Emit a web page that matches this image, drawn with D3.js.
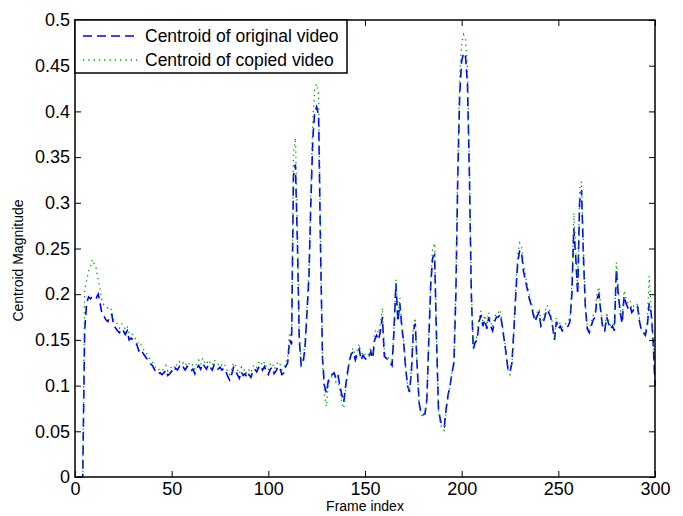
<!DOCTYPE html>
<html>
<head>
<meta charset="utf-8">
<script src="https://cdn.jsdelivr.net/npm/d3@7"></script>
<style>
  body { margin: 0; background: #fff; }
  svg { display: block; font-family: Arial, 'Liberation Sans', sans-serif; }
</style>
</head>
<body>
<div id="chart"></div>
<script>
const seriesNames = ['Centroid of original video', 'Centroid of copied video'];
const xTicks = [0, 50, 100, 150, 200, 250, 300];
const xTickLabels = ['0', '50', '100', '150', '200', '250', '300'];
const yTicks = [0, 0.05, 0.1, 0.15, 0.2, 0.25, 0.3, 0.35, 0.4, 0.45, 0.5];
const yTickLabels = ['0', '0.05', '0.1', '0.15', '0.2', '0.25', '0.3', '0.35', '0.4', '0.45', '0.5'];

// frame index 1..300
const frames = d3.range(1, 301);

const original = [
  0, 0, 0, 0, 0.160, 0.190, 0.197, 0.195, 0.198, 0.197,
  0.196, 0.200, 0.190, 0.178, 0.176, 0.172, 0.170, 0.176, 0.178, 0.166,
  0.163, 0.160, 0.158, 0.162, 0.160, 0.156, 0.160, 0.150, 0.152, 0.150,
  0.147, 0.145, 0.138, 0.140, 0.136, 0.133, 0.130, 0.127, 0.124, 0.122,
  0.118, 0.114, 0.113, 0.114, 0.112, 0.114, 0.117, 0.111, 0.113, 0.116,
  0.114, 0.119, 0.117, 0.121, 0.118, 0.120, 0.117, 0.121, 0.119, 0.116,
  0.118, 0.113, 0.119, 0.122, 0.118, 0.124, 0.121, 0.118, 0.123, 0.120,
  0.117, 0.123, 0.121, 0.118, 0.120, 0.117, 0.119, 0.116, 0.110, 0.106,
  0.112, 0.120, 0.117, 0.112, 0.108, 0.115, 0.111, 0.113, 0.108, 0.112,
  0.109, 0.116, 0.118, 0.115, 0.120, 0.122, 0.117, 0.121, 0.115, 0.112,
  0.118, 0.120, 0.113, 0.116, 0.121, 0.119, 0.112, 0.114, 0.121, 0.125,
  0.150, 0.145, 0.330, 0.342, 0.260, 0.150, 0.122, 0.125, 0.142, 0.180,
  0.219, 0.300, 0.370, 0.400, 0.405, 0.395, 0.250, 0.131, 0.100, 0.092,
  0.105, 0.110, 0.112, 0.114, 0.108, 0.112, 0.100, 0.090, 0.082, 0.100,
  0.115, 0.128, 0.135, 0.137, 0.128, 0.135, 0.140, 0.128, 0.133, 0.130,
  0.128, 0.131, 0.137, 0.130, 0.150, 0.155, 0.150, 0.160, 0.175, 0.132,
  0.130, 0.128, 0.125, 0.122, 0.160, 0.212, 0.170, 0.190, 0.165, 0.147,
  0.120, 0.100, 0.093, 0.115, 0.160, 0.168, 0.120, 0.081, 0.070, 0.068,
  0.069, 0.085, 0.150, 0.210, 0.240, 0.243, 0.150, 0.075, 0.062, 0.056,
  0.055, 0.075, 0.090, 0.100, 0.114, 0.125, 0.200, 0.330, 0.420, 0.455,
  0.464, 0.460, 0.430, 0.330, 0.200, 0.140, 0.147, 0.150, 0.170, 0.177,
  0.165, 0.172, 0.162, 0.175, 0.165, 0.160, 0.170, 0.175, 0.175, 0.178,
  0.165, 0.150, 0.135, 0.117, 0.115, 0.125, 0.160, 0.200, 0.235, 0.248,
  0.245, 0.225, 0.215, 0.205, 0.195, 0.188, 0.178, 0.170, 0.176, 0.180,
  0.165, 0.168, 0.175, 0.183, 0.180, 0.175, 0.165, 0.150, 0.170, 0.162,
  0.165, 0.160, 0.162, 0.164, 0.165, 0.170, 0.200, 0.272, 0.240, 0.200,
  0.300, 0.314, 0.240, 0.185, 0.162, 0.158, 0.165, 0.172, 0.175, 0.195,
  0.200, 0.180, 0.162, 0.160, 0.175, 0.168, 0.162, 0.165, 0.160, 0.227,
  0.200, 0.180, 0.168, 0.198, 0.190, 0.185, 0.188, 0.180, 0.183, 0.182,
  0.186, 0.170, 0.160, 0.158, 0.155, 0.165, 0.190, 0.180, 0.150, 0.100
];

const copied = [
  0, 0, 0, 0, 0.205, 0.215, 0.225, 0.230, 0.238, 0.233,
  0.228, 0.215, 0.205, 0.192, 0.188, 0.186, 0.185, 0.186, 0.182, 0.172,
  0.170, 0.167, 0.163, 0.168, 0.166, 0.162, 0.165, 0.157, 0.158, 0.155,
  0.152, 0.150, 0.144, 0.145, 0.141, 0.138, 0.135, 0.132, 0.128, 0.126,
  0.122, 0.118, 0.117, 0.118, 0.116, 0.119, 0.122, 0.116, 0.118, 0.121,
  0.119, 0.124, 0.122, 0.126, 0.123, 0.125, 0.122, 0.126, 0.124, 0.121,
  0.123, 0.118, 0.124, 0.128, 0.123, 0.130, 0.126, 0.123, 0.128, 0.125,
  0.122, 0.128, 0.126, 0.123, 0.125, 0.122, 0.124, 0.121, 0.115, 0.112,
  0.117, 0.125, 0.122, 0.117, 0.113, 0.120, 0.116, 0.118, 0.113, 0.117,
  0.114, 0.121, 0.123, 0.120, 0.125, 0.127, 0.122, 0.126, 0.120, 0.117,
  0.123, 0.125, 0.118, 0.121, 0.126, 0.124, 0.117, 0.119, 0.126, 0.131,
  0.158, 0.152, 0.355, 0.371, 0.280, 0.158, 0.126, 0.130, 0.148, 0.188,
  0.228, 0.315, 0.390, 0.425, 0.430, 0.418, 0.265, 0.125, 0.090, 0.077,
  0.100, 0.108, 0.110, 0.112, 0.104, 0.108, 0.093, 0.082, 0.075, 0.095,
  0.112, 0.128, 0.138, 0.141, 0.132, 0.139, 0.145, 0.132, 0.137, 0.134,
  0.132, 0.135, 0.142, 0.135, 0.158, 0.162, 0.157, 0.168, 0.185, 0.136,
  0.133, 0.131, 0.127, 0.124, 0.165, 0.216, 0.175, 0.196, 0.170, 0.150,
  0.122, 0.101, 0.094, 0.118, 0.166, 0.174, 0.122, 0.079, 0.068, 0.066,
  0.067, 0.084, 0.155, 0.218, 0.250, 0.256, 0.155, 0.072, 0.058, 0.052,
  0.051, 0.072, 0.088, 0.100, 0.116, 0.128, 0.210, 0.345, 0.440, 0.475,
  0.484, 0.478, 0.448, 0.345, 0.205, 0.142, 0.150, 0.154, 0.175, 0.182,
  0.170, 0.177, 0.166, 0.180, 0.170, 0.164, 0.175, 0.180, 0.180, 0.183,
  0.168, 0.152, 0.134, 0.114, 0.112, 0.124, 0.164, 0.208, 0.244, 0.256,
  0.253, 0.232, 0.221, 0.210, 0.200, 0.192, 0.182, 0.173, 0.180, 0.184,
  0.169, 0.172, 0.180, 0.188, 0.185, 0.179, 0.168, 0.152, 0.174, 0.166,
  0.169, 0.164, 0.166, 0.168, 0.169, 0.175, 0.210, 0.289, 0.252, 0.208,
  0.315, 0.323, 0.250, 0.190, 0.165, 0.161, 0.169, 0.177, 0.180, 0.202,
  0.208, 0.185, 0.165, 0.163, 0.180, 0.172, 0.166, 0.169, 0.164, 0.235,
  0.206, 0.184, 0.171, 0.204, 0.195, 0.190, 0.193, 0.184, 0.187, 0.186,
  0.190, 0.173, 0.162, 0.160, 0.157, 0.170, 0.220, 0.186, 0.152, 0.098
];

const width = 683;
const height = 516;
const margin = { top: 20, right: 28, bottom: 39, left: 75 };
const innerWidth = width - margin.left - margin.right;
const innerHeight = height - margin.top - margin.bottom;

const svg = d3.select('#chart')
  .append('svg')
  .attr('width', width)
  .attr('height', height);

const xScale = d3.scaleLinear().domain([0, 300]).range([0, innerWidth]);
const yScale = d3.scaleLinear().domain([0, 0.5]).range([innerHeight, 0]);

const group = svg.append('g')
  .attr('transform', `translate(${margin.left}, ${margin.top})`);

const line = values => d3.line()
  .x((d, i) => xScale(frames[i]))
  .y(d => yScale(d))(values);

// original first, copied drawn over it
group.append('path')
  .attr('d', line(original))
  .attr('fill', 'none')
  .attr('stroke', '#0000ff')
  .attr('stroke-width', 1.6)
  .attr('stroke-dasharray', '9,5');

group.append('path')
  .attr('d', line(copied))
  .attr('fill', 'none')
  .attr('stroke', '#00a000')
  .attr('stroke-width', 1.3)
  .attr('stroke-dasharray', '1.3,4');

// axes, ticks pointing inward like matlab
const styleAxis = g => {
  g.select('.domain').remove();
  g.selectAll('line').attr('stroke', '#000');
  g.selectAll('text').attr('font-size', 18).attr('fill', '#000');
};

group.append('g')
  .attr('transform', `translate(0, ${innerHeight})`)
  .call(d3.axisBottom(xScale).tickValues(xTicks)
    .tickFormat((d, i) => xTickLabels[i]).tickSize(-6).tickPadding(5))
  .call(styleAxis);

group.append('g')
  .call(d3.axisTop(xScale).tickValues(xTicks).tickFormat('').tickSize(-6))
  .call(styleAxis);

group.append('g')
  .call(d3.axisLeft(yScale).tickValues(yTicks)
    .tickFormat((d, i) => yTickLabels[i]).tickSize(-6).tickPadding(5))
  .call(styleAxis);

group.append('g')
  .attr('transform', `translate(${innerWidth}, 0)`)
  .call(d3.axisRight(yScale).tickValues(yTicks).tickFormat('').tickSize(-6))
  .call(styleAxis);

group.append('rect')
  .attr('width', innerWidth)
  .attr('height', innerHeight)
  .attr('fill', 'none')
  .attr('stroke', '#000')
  .attr('stroke-width', 1.5);

// axis labels
svg.append('text')
  .attr('x', margin.left + innerWidth / 2)
  .attr('y', 511)
  .attr('text-anchor', 'middle')
  .attr('font-size', 14)
  .text('Frame index');

svg.append('text')
  .attr('transform', `translate(23, ${margin.top + innerHeight / 2 + 12}) rotate(-90)`)
  .attr('text-anchor', 'middle')
  .attr('font-size', 14)
  .text('Centroid Magnitude');

// legend
const legend = group.append('g');
legend.append('rect')
  .attr('width', 272)
  .attr('height', 53)
  .attr('fill', '#fff')
  .attr('stroke', '#000')
  .attr('stroke-width', 1.5);

const legendStyles = [
  { color: '#0000ff', dash: '9,5', w: 1.6 },
  { color: '#00a000', dash: '1.3,4', w: 1.3 }
];

seriesNames.forEach((name, i) => {
  const yPos = 16 + i * 24;
  legend.append('line')
    .attr('x1', 8).attr('x2', 62)
    .attr('y1', yPos).attr('y2', yPos)
    .attr('stroke', legendStyles[i].color)
    .attr('stroke-width', legendStyles[i].w)
    .attr('stroke-dasharray', legendStyles[i].dash);
  legend.append('text')
    .attr('x', 70)
    .attr('y', yPos)
    .attr('dy', '0.35em')
    .attr('font-size', 17.5)
    .text(name);
});
</script>
</body>
</html>
